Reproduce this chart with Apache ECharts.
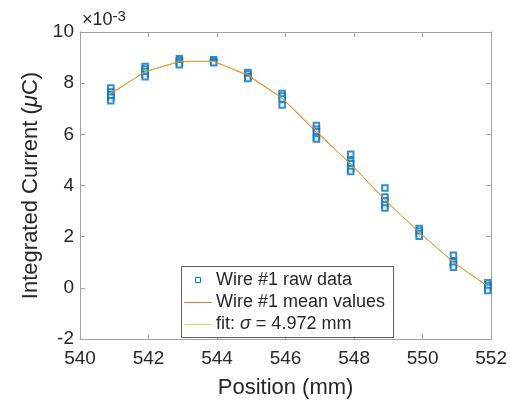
<!DOCTYPE html>
<html><head><meta charset="utf-8">
<script src="https://cdn.jsdelivr.net/npm/echarts@6/dist/echarts.min.js"></script>
<style>html,body{margin:0;padding:0;background:#fff}#c{width:510px;height:404px}</style>
</head><body><div id="c"></div>
<script>
// positions (mm)
const positions = [540.9, 541.9, 542.9, 543.9, 544.9, 545.9, 546.9, 547.9, 548.9, 549.9, 550.9, 551.9];
// raw data per position (x1e-3 uC)
const rawValues = [
  [7.81, 7.65, 7.55, 7.45, 7.31],
  [8.65, 8.55, 8.46, 8.35, 8.25],
  [8.95, 8.88, 8.8, 8.72],
  [8.92, 8.85, 8.8],
  [8.42, 8.35, 8.25, 8.18],
  [7.6, 7.5, 7.38, 7.15],
  [6.35, 6.2, 6.1, 5.9, 5.82],
  [5.22, 4.95, 4.85, 4.65, 4.55],
  [3.9, 3.55, 3.4, 3.25, 3.12],
  [2.32, 2.22, 2.12, 2.02],
  [1.27, 1.02, 0.92, 0.8],
  [0.2, 0.1, 0.02, -0.1]
];
const meanValues = [7.58, 8.45, 8.84, 8.86, 8.3, 7.41, 6.08, 4.85, 3.44, 2.17, 1.0, 0.06];
const fitValues  = [7.62, 8.44, 8.86, 8.84, 8.34, 7.42, 6.15, 4.82, 3.45, 2.16, 1.0, 0.08];
const xTicks = {min: 540, max: 552, step: 2};
const yTicks = {min: -2, max: 10, step: 2};
const names = ['Wire #1 raw data', 'Wire #1 mean values', 'fit: σ = 4.972 mm'];

const rawPoints = [];
positions.forEach((p, i) => rawValues[i].forEach(v => rawPoints.push([p, v])));
const meanPoints = positions.map((p, i) => [p, meanValues[i]]);
const fitPoints = positions.map((p, i) => [p, fitValues[i]]);

const FONT = '"Liberation Sans", Arial, sans-serif';
const axisColor = '#a0a0a0';
const txt = '#262626';
const colors = ['#0072BD', '#D95319', '#EDB120'];

function axisBase(extra) {
  return Object.assign({
    type: 'value',
    axisLine: {show: true, onZero: false, lineStyle: {color: axisColor, width: 1}},
    axisTick: {show: true, inside: true, length: 5, lineStyle: {color: axisColor}},
    splitLine: {show: false},
    axisLabel: {show: false}
  }, extra);
}

// legend box (drawn as graphic)
const LX = 181, LY = 266, LW = 212, LH = 71, ROW = 22;
const legendGraphics = [
  {type: 'rect', z: 10, shape: {x: LX + 0.5, y: LY + 0.5, width: LW, height: LH},
    style: {fill: '#fff', stroke: '#333', lineWidth: 0.8}},
  {type: 'rect', z: 11, shape: {x: 195.5, y: LY + 11.5, width: 5, height: 5},
    style: {fill: 'none', stroke: colors[0], lineWidth: 1}},
  {type: 'line', z: 11, shape: {x1: LX + 3, y1: LY + 14 + ROW + 0.5, x2: LX + 31, y2: LY + 14 + ROW + 0.5},
    style: {stroke: colors[1], lineWidth: 0.8}},
  {type: 'line', z: 11, shape: {x1: LX + 3, y1: LY + 14 + 2 * ROW + 0.5, x2: LX + 31, y2: LY + 14 + 2 * ROW + 0.5},
    style: {stroke: colors[2], lineWidth: 0.8}}
];
names.forEach((n, i) => legendGraphics.push({
  type: 'text', z: 12, x: LX + 35, y: LY + 14 + i * ROW,
  style: {text: n.replace('σ', '{i|σ}'), fill: txt, font: '18px ' + FONT, verticalAlign: 'middle',
    rich: {i: {fontStyle: 'italic', fontSize: 18, fontFamily: FONT, fill: txt}}}
}));

const chart = echarts.init(document.getElementById('c'), null, {renderer: 'canvas'});
chart.setOption({
  animation: false,
  backgroundColor: '#fff',
  grid: {left: 80, top: 32, right: 16, bottom: 59, containLabel: false},
  xAxis: [
    axisBase({min: xTicks.min, max: xTicks.max, interval: xTicks.step, position: 'bottom',
      axisLabel: {show: true, color: txt, fontSize: 19, fontFamily: FONT, margin: 10},
      name: 'Position (mm)', nameLocation: 'middle', nameGap: 38,
      nameTextStyle: {color: txt, fontSize: 22, fontFamily: FONT}}),
    axisBase({min: xTicks.min, max: xTicks.max, interval: xTicks.step, position: 'top'})
  ],
  yAxis: [
    axisBase({min: yTicks.min, max: yTicks.max, interval: yTicks.step, position: 'left',
      axisLabel: {show: true, color: txt, fontSize: 19, fontFamily: FONT, margin: 6},
      name: 'Integrated Current ({i|μ}C)', nameLocation: 'middle', nameGap: 34,
      nameTextStyle: {color: txt, fontSize: 22, fontFamily: FONT,
        rich: {i: {fontStyle: 'italic', fontSize: 22, fontFamily: FONT, color: txt}}}}),
    axisBase({min: yTicks.min, max: yTicks.max, interval: yTicks.step, position: 'right'})
  ],
  legend: {show: false, data: names},
  graphic: [{
    type: 'text', left: 82, top: 9,
    style: {text: '×10{s|-3}', fill: txt, font: '18px ' + FONT,
      rich: {s: {fontSize: 15, fontFamily: FONT, fill: txt, verticalAlign: 'top', padding: [0,0,8,0]}}}
  }].concat(legendGraphics),
  series: [
    {name: names[0], type: 'scatter', data: rawPoints, symbol: 'emptyRect', symbolSize: 5.5,
      itemStyle: {color: colors[0], borderColor: colors[0], borderWidth: 1}, z: 2},
    {name: names[1], type: 'line', data: meanPoints, showSymbol: false, symbol: 'none',
      lineStyle: {color: colors[1], width: 0.8}, itemStyle: {color: colors[1]}, z: 3},
    {name: names[2], type: 'line', data: fitPoints, showSymbol: false, symbol: 'none',
      lineStyle: {color: colors[2], width: 0.8}, itemStyle: {color: colors[2]}, z: 4}
  ]
});
</script></body></html>
